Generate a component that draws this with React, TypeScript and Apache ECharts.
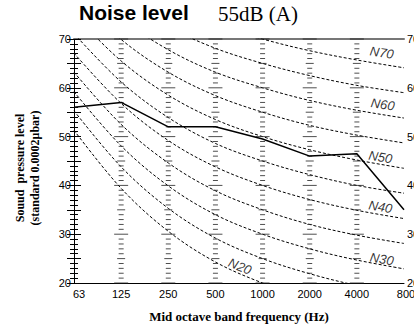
import React, { useEffect, useRef } from "react";
import * as echarts from "echarts";

// Octave band centre frequencies (x categories)
const frequencies = ["63", "125", "250", "500", "1000", "2000", "4000", "8000"];
// Measured sound pressure level (solid line)
const measured = [56, 57, 52, 52, 49.5, 46, 46.5, 35];
// N (noise rating) curves, values at each octave band
const n20 = [51.3, 39.4, 30.6, 24.3, 20.0, 16.8, 14.4, 12.6];
const n25 = [55.3, 43.8, 35.3, 29.2, 25.0, 21.9, 19.5, 17.8];
const n30 = [59.2, 48.1, 39.9, 34.0, 30.0, 27.0, 24.7, 22.9];
const n35 = [63.2, 52.5, 44.6, 38.9, 35.0, 32.0, 29.8, 28.1];
const n40 = [67.1, 56.8, 49.2, 43.8, 40.0, 37.1, 34.9, 33.2];
const n45 = [71.1, 61.2, 53.9, 48.6, 45.0, 42.2, 40.0, 38.4];
const n50 = [75.0, 65.5, 58.5, 53.5, 50.0, 47.3, 45.2, 43.5];
const n55 = [79.0, 69.9, 63.2, 58.4, 55.0, 52.3, 50.3, 48.7];
const n60 = [82.9, 74.2, 67.8, 63.2, 60.0, 57.4, 55.4, 53.8];
const n65 = [86.9, 78.6, 72.5, 68.1, 65.0, 62.5, 60.5, 59.0];
const n70 = [90.8, 82.9, 77.1, 73.0, 70.0, 67.6, 65.7, 64.1];
const nCurves = [n20, n25, n30, n35, n40, n45, n50, n55, n60, n65, n70];
// Y tick labels
const yTickLabels = [20, 30, 40, 50, 60, 70];
// Curve labels (position in octave index / dB, rotation)
const curveLabelNames = ["N70", "N60", "N50", "N40", "N30", "N20"];
const curveLabelX = [6.53, 6.55, 6.5, 6.5, 6.53, 3.52];
const curveLabelY = [67.2, 56.6, 45.8, 35.6, 24.9, 23.4];
const curveLabelRot = [-9, -9, -10, -10, -10, -22];

export default function App() {
  const ref = useRef<HTMLDivElement>(null);
  useEffect(() => {
    document.body.style.margin = "0";
    if (!ref.current) return;
    const chart = echarts.init(ref.current, null, { renderer: "svg" });

    // column tick marks at each interior octave band
    const colMarks: any[] = [];
    for (let i = 1; i < frequencies.length - 1; i++) {
      for (let db = 20; db <= 70; db++) {
        const w = db % 10 === 0 ? 14 : db % 5 === 0 ? 8 : 5;
        colMarks.push({ value: [i, db], symbolSize: [w, 1] });
      }
    }

    const sans = "Liberation Sans, Arial, sans-serif";
    const serif = "Liberation Serif, Times New Roman, serif";

    const makeYAxis = (pos: "left" | "right") => ({
      type: "value",
      position: pos,
      min: 20,
      max: 70,
      interval: 5,
      splitLine: { show: false },
      axisLine: { show: true, lineStyle: { color: "#000", width: 1 } },
      axisTick: { show: true, inside: true, length: 7, lineStyle: { color: "#000" } },
      minorTick: { show: true, splitNumber: 5, length: 4, lineStyle: { color: "#000" } },
      axisLabel: {
        margin: 3,
        fontFamily: sans,
        fontSize: 11,
        color: "#000",
        formatter: (v: number) => (yTickLabels.includes(v) ? String(v) : ""),
      },
    });

    const option: any = {
      animation: false,
      title: [
        {
          text: "Noise level",
          left: 79,
          top: 2,
          padding: 0,
          textStyle: { fontFamily: sans, fontWeight: "bold", fontSize: 21, color: "#000" },
        },
        {
          text: "55dB (A)",
          left: 218,
          top: 3,
          padding: 0,
          textStyle: { fontFamily: serif, fontWeight: "normal", fontSize: 21, color: "#000" },
        },
      ],
      graphic: [
        {
          type: "text",
          x: 27,
          y: 168,
          rotation: Math.PI / 2,
          style: {
            text: "Souud  pressure level\n(standard 0.0002μbar)",
            fontFamily: serif,
            fontWeight: "bold",
            fontSize: 12,
            lineHeight: 15,
            fill: "#000",
            align: "center",
            verticalAlign: "middle",
          },
        },
      ],
      grid: { left: 74, right: 10, top: 39, bottom: 46, outerBoundsMode: "none" },
      xAxis: [
        {
          type: "value",
          min: 0,
          max: 7,
          interval: 1,
          splitLine: { show: false },
          axisLine: { show: true, lineStyle: { color: "#000", width: 1 } },
          axisTick: { show: false },
          axisLabel: {
            margin: 5,
            fontFamily: sans,
            fontSize: 11,
            color: "#000",
            formatter: (v: number) => {
              const s = frequencies[v] ?? "";
              if (v === 0 || v === frequencies.length - 1) return "{e|" + s + "}";
              return s;
            },
            rich: { e: { padding: [0, 0, 0, 10], fontFamily: sans, fontSize: 11, color: "#000" } },
          },
          name: "Mid octave band frequency (Hz)",
          nameLocation: "middle",
          nameGap: 27,
          nameTextStyle: { fontFamily: serif, fontWeight: "bold", fontSize: 13, color: "#000" },
        },
        {
          type: "value",
          position: "top",
          min: 0,
          max: 7,
          interval: 1,
          splitLine: { show: false },
          axisLine: { show: true, lineStyle: { color: "#777", width: 2 } },
          axisTick: { show: false },
          axisLabel: { show: false },
        },
      ],
      yAxis: [makeYAxis("left"), makeYAxis("right")],
      series: [
        ...nCurves.map((c) => ({
          type: "line",
          data: c.map((v, i) => [i, v]),
          smooth: 0.35,
          showSymbol: false,
          silent: true,
          lineStyle: { color: "#000", width: 1, type: [3, 2] },
          z: 2,
        })),
        {
          type: "scatter",
          data: colMarks,
          symbol: "rect",
          silent: true,
          itemStyle: { color: "#222" },
          z: 3,
        },
        {
          type: "line",
          data: measured.map((v, i) => [i, v]),
          showSymbol: false,
          silent: true,
          lineStyle: { color: "#000", width: 1.5 },
          z: 5,
        },
        {
          type: "scatter",
          symbolSize: 0,
          silent: true,
          data: curveLabelNames.map((n, k) => ({
            name: n,
            value: [curveLabelX[k], curveLabelY[k]],
            label: { rotate: curveLabelRot[k] },
          })),
          label: {
            show: true,
            position: "inside",
            formatter: "{b}",
            fontFamily: sans,
            fontStyle: "italic",
            fontSize: 13,
            color: "#000",
          },
          z: 6,
        },
      ],
    };
    chart.setOption(option);
    return () => chart.dispose();
  }, []);
  return <div ref={ref} style={{ width: 414, height: 329 }} />;
}
